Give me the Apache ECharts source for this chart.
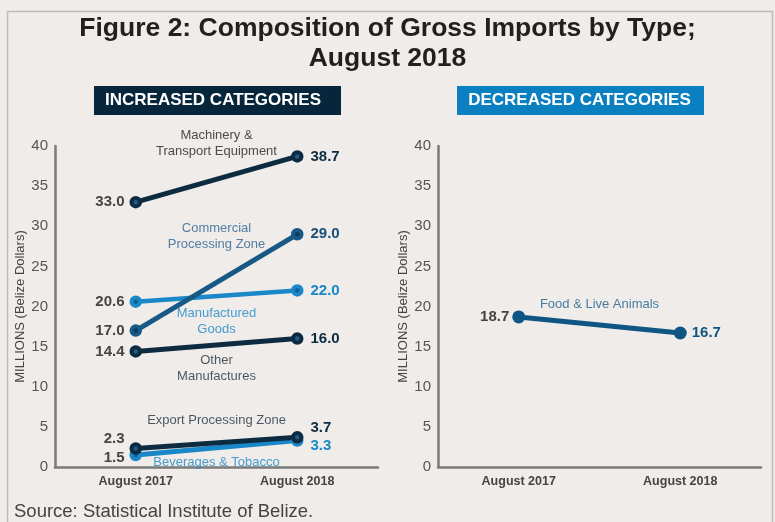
<!DOCTYPE html>
<html><head><meta charset="utf-8">
<script src="https://cdn.jsdelivr.net/npm/echarts@6/dist/echarts.min.js"></script>
<style>html,body{margin:0;padding:0;background:#efece9}#c{width:775px;height:522px}</style>
</head><body><div id="c"></div>
<script>
// ---- data ----
const categories = ['August 2017', 'August 2018'];
const machinery = [33.0, 38.7];
const commercial = [17.0, 29.0];
const manufactured = [20.6, 22.0];
const otherManuf = [14.4, 16.0];
const exportZone = [2.3, 3.7];
const beverages = [1.5, 3.3];
const food = [18.7, 16.7];
const yTicks = [0, 5, 10, 15, 20, 25, 30, 35, 40];

const FONT = 'Liberation Sans, Arial, sans-serif';
const C_DARK = '#0d2b40';
const C_NAVY = '#175885';
const C_BRIGHT = '#1987c8';
const C_FOOD = '#0f5583';

function lineSeries(name, values, color, dot, endColor, xi, yi, offs, lw) {
  offs = offs || [[0,0],[0,0]];
  const solid = dot === null;
  return {
    name, type: 'line', xAxisIndex: xi, yAxisIndex: yi,
    symbol: 'circle', symbolSize: solid ? 13 : 8.5,
    lineStyle: { color, width: lw || 5 },
    itemStyle: { color: solid ? color : dot, borderColor: color, borderWidth: solid ? 0 : 4 },
    z: 3,
    data: values.map((v, i) => ({
      value: v,
      label: {
        show: true,
        position: i === 0 ? 'left' : 'right',
        distance: solid ? (i === 0 ? 3 : 5) : (i === 0 ? 5 : 7),
        offset: offs[i],
        formatter: v.toFixed(1),
        color: i === 0 ? '#454545' : endColor,
        fontFamily: FONT, fontWeight: 'bold', fontSize: 15
      }
    })),
    animation: false
  };
}

function note(xi, yi, y, text, color) {
  return {
    type: 'scatter', xAxisIndex: xi, yAxisIndex: yi, silent: true, clip: false,
    symbolSize: 1, itemStyle: { color: 'transparent' }, z: 5,
    data: [[0.5, y]],
    label: { show: true, position: 'inside', formatter: text, color,
      fontFamily: FONT, fontSize: 13, lineHeight: 16 },
    animation: false
  };
}

const yAxisBase = (gi) => ({
  type: 'value', gridIndex: gi, min: 0, max: 40, interval: 5,
  name: 'MILLIONS (Belize Dollars)', nameLocation: 'middle', nameGap: 28,
  nameTextStyle: { color: '#444', fontFamily: FONT, fontSize: 13 },
  axisLine: { show: true, onZero: false, lineStyle: { color: '#7a7a7a', width: 2.5 } },
  axisTick: { show: false }, splitLine: { show: false },
  axisLabel: { color: '#555', fontFamily: FONT, fontSize: 15, margin: 7 }
});
const xAxisBase = (gi) => ({
  type: 'category', gridIndex: gi, data: categories, boundaryGap: true,
  axisLine: { show: true, onZero: false, lineStyle: { color: '#7a7a7a', width: 2.5 } },
  axisTick: { show: false },
  axisLabel: { color: '#444', fontFamily: FONT, fontSize: 12.5, fontWeight: 'bold', margin: 8 }
});
const hiddenX = (gi) => ({ type: 'value', gridIndex: gi, min: -0.5, max: 1.5, show: false });

const chart = echarts.init(document.getElementById('c'), null, { renderer: 'canvas' });
chart.setOption({
  backgroundColor: '#efece9',
  animation: false,
  title: {
    text: 'Figure 2: Composition of Gross Imports by Type;\nAugust 2018',
    left: 'center', top: 9,
    textStyle: { color: '#231f20', fontFamily: FONT, fontSize: 26.5, fontWeight: 'bold', lineHeight: 30 }
  },
  grid: [
    { left: 55, right: 397, top: 146, bottom: 55 },
    { left: 438, right: 14, top: 146, bottom: 55 }
  ],
  xAxis: [xAxisBase(0), xAxisBase(1), hiddenX(0), hiddenX(1)],
  yAxis: [yAxisBase(0), yAxisBase(1)],
  graphic: [
    { type: 'rect', left: 5, top: 9, shape: { width: 765, height: 530 }, style: { fill: 'none', stroke: '#bdbdbd', lineWidth: 1.5 }, silent: true },
    { type: 'rect', left: 94, top: 86, shape: { width: 247, height: 29 }, style: { fill: '#07263c' } },
    { type: 'text', x: 213, y: 100.5, style: { text: 'INCREASED CATEGORIES', fill: '#fff', font: 'bold 17px ' + FONT, textAlign: 'center', textVerticalAlign: 'middle' } },
    { type: 'rect', left: 457, top: 86, shape: { width: 247, height: 29 }, style: { fill: '#0a80c0' } },
    { type: 'text', x: 579.5, y: 100.5, style: { text: 'DECREASED CATEGORIES', fill: '#fff', font: 'bold 17px ' + FONT, textAlign: 'center', textVerticalAlign: 'middle' } },
    { type: 'text', left: 14, top: 502, style: { text: 'Source: Statistical Institute of Belize.', fill: '#444', font: '18.5px ' + FONT } }
  ],
  series: [
    lineSeries('Beverages & Tobacco', beverages, C_BRIGHT, '#115f95', C_BRIGHT, 0, 0, [[0, 3], [0, 5]]),
    lineSeries('Export Processing Zone', exportZone, C_DARK, '#245b84', C_DARK, 0, 0, [[0, -10], [0, -9]]),
    lineSeries('Other Manufactures', otherManuf, C_DARK, '#245b84', C_DARK, 0, 0),
    lineSeries('Manufactured Goods', manufactured, C_BRIGHT, '#115f95', C_BRIGHT, 0, 0, null, 4.5),
    lineSeries('Commercial Processing Zone', commercial, C_NAVY, '#0d3a5c', '#184f7a', 0, 0),
    lineSeries('Machinery & Transport Equipment', machinery, C_DARK, '#245b84', C_DARK, 0, 0),
    lineSeries('Food & Live Animals', food, C_FOOD, null, C_FOOD, 1, 1),
    note(2, 0, 40.3, 'Machinery &\nTransport Equipment', '#222'),
    note(2, 0, 28.7, 'Commercial\nProcessing Zone', '#2a6392'),
    note(2, 0, 18.1, 'Manufactured\nGoods', '#1a88c9'),
    note(2, 0, 12.3, 'Other\nManufactures', '#1c2e40'),
    note(2, 0, 5.85, 'Export Processing Zone', '#1c2e40'),
    note(2, 0, 0.6, 'Beverages & Tobacco', '#1a88c9'),
    note(3, 1, 20.25, 'Food & Live Animals', '#1a5f8e')
  ]
});
</script></body></html>
